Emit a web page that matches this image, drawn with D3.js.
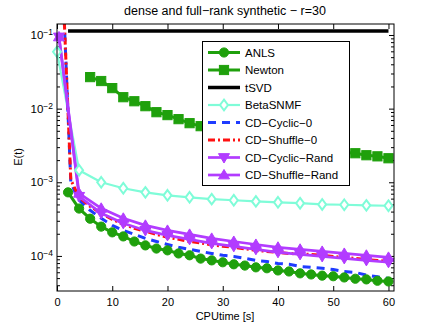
<!DOCTYPE html>
<html>
<head>
<meta charset="utf-8">
<script src="https://cdn.jsdelivr.net/npm/d3@7"></script>
<style>
  body { margin: 0; background: #fff; }
  svg { display: block; font-family: "Liberation Sans", Arial, sans-serif; }
</style>
</head>
<body>
<svg id="chart" width="436" height="328"></svg>
<script>
// values (CPU time in seconds, E(t))
const anlsT = [2,4,6,8,10,12,14,16,18,20,22,24,26,28,30,32,34,36,38,40,42,44,46,48,50,52,54,56,58,60];
const anlsE = [7.3e-4,4.4e-4,3.2e-4,2.5e-4,2.09e-4,1.84e-4,1.57e-4,1.39e-4,1.26e-4,1.19e-4,1.08e-4,1.02e-4,9.2e-5,8.7e-5,8.2e-5,
  7.7e-5,7.4e-5,7.0e-5,6.8e-5,6.35e-5,6.15e-5,5.8e-5,5.6e-5,5.4e-5,5.3e-5,5.1e-5,4.9e-5,4.8e-5,4.6e-5,4.5e-5];

const newtonT = [6,8,10,12,14,16,18,20,22,24,26,28,30,32,34,36,38,40,42,44,46,48,50,52,54,56,58,60];
const newtonE = [0.0268,0.0237,0.019,0.0143,0.0126,0.0108,0.00895,0.00817,0.0072,0.00635,0.00578,0.00526,0.00479,0.00436,
  0.00409,0.00385,0.00361,0.0034,0.00319,0.00309,0.0029,0.00281,0.00273,0.00256,0.00248,0.00233,0.00225,0.00212];

const tsvdT = [2, 60];
const tsvdE = [0.113, 0.113];

const betaT = [0,4,8,12,16,20,24,28,32,36,40,44,48,52,56,60];
const betaE = [0.059,1.46e-3,1.0e-3,8.3e-4,7.3e-4,6.65e-4,6.25e-4,5.9e-4,5.7e-4,5.5e-4,5.35e-4,5.2e-4,5.0e-4,4.95e-4,4.86e-4,4.8e-4];

const cdT = [1,2.5,4,6,8,10,12,14,16,18,20,22,24,26,28,30,32,34,36,38,40,42,44,46,48,50,52,54,56,58,60];
const cyclic0E = [0.6,9.8e-4,5.7e-4,4.16e-4,3.24e-4,2.6e-4,2.22e-4,1.96e-4,1.73e-4,1.57e-4,1.43e-4,1.31e-4,1.23e-4,1.15e-4,
  1.08e-4,1.02e-4,9.85e-5,9.25e-5,8.7e-5,8.4e-5,7.9e-5,7.7e-5,7.2e-5,7.0e-5,6.8e-5,6.55e-5,6.15e-5,5.97e-5,5.5e-5,5.2e-5,4.95e-5];
const shuffle0E = [0.6,1.08e-3,6.25e-4,4.7e-4,3.79e-4,3.14e-4,2.69e-4,2.37e-4,2.16e-4,1.96e-4,1.79e-4,1.68e-4,1.57e-4,1.5e-4,
  1.41e-4,1.35e-4,1.31e-4,1.25e-4,1.19e-4,1.15e-4,1.12e-4,1.08e-4,1.065e-4,1.05e-4,1.02e-4,9.85e-5,9.55e-5,9.25e-5,8.95e-5,8.7e-5,8.4e-5];

const randT = [0.36,4,8,12,16,20,24,28,32,36,40,44,48,52,56,60];
const cyclicRandE = [0.094,6.45e-4,3.79e-4,2.77e-4,2.22e-4,1.9e-4,1.68e-4,1.48e-4,1.35e-4,1.23e-4,1.12e-4,1.05e-4,9.85e-5,9.25e-5,8.7e-5,8.2e-5];
const shuffleRandE = [0.094,7.08e-4,4.43e-4,3.24e-4,2.6e-4,2.22e-4,1.96e-4,1.73e-4,1.57e-4,1.43e-4,1.31e-4,1.23e-4,1.15e-4,1.08e-4,1.02e-4,9.55e-5];

const xTicks = [0, 10, 20, 30, 40, 50, 60];
const yTicks = [1e-4, 1e-3, 1e-2, 1e-1];

const green = "#1fa00c", aqua = "#7ffcd8", blue = "#1f3cff", red = "#ff1010", purple = "#b23cff";

const series = [
  { name: "ANLS", t: anlsT, e: anlsE, color: green, width: 3, marker: "circle", fill: green },
  { name: "Newton", t: newtonT, e: newtonE, color: green, width: 3, marker: "square", fill: green },
  { name: "tSVD", t: tsvdT, e: tsvdE, color: "#000", width: 3.5, marker: null },
  { name: "BetaSNMF", t: betaT, e: betaE, color: aqua, width: 2.2, marker: "diamond", fill: "#fff" },
  { name: "CD\u2212Cyclic\u22120", t: cdT, e: cyclic0E, color: blue, width: 3, dash: "8,6", marker: null },
  { name: "CD\u2212Shuffle\u22120", t: cdT, e: shuffle0E, color: red, width: 3, dash: "7,3,2,3", marker: null },
  { name: "CD\u2212Cyclic\u2212Rand", t: randT, e: cyclicRandE, color: purple, width: 2.7, marker: "triDown", fill: purple },
  { name: "CD\u2212Shuffle\u2212Rand", t: randT, e: shuffleRandE, color: purple, width: 2.7, marker: "triUp", fill: purple }
];

const svg = d3.select("#chart");
const plotLeft = 57, plotRight = 394, plotTop = 24, plotBottom = 291;

const x = d3.scaleLinear().domain([0, 61]).range([plotLeft, plotRight]);
const y = d3.scaleLog().domain([3.34e-5, 0.141]).range([plotBottom, plotTop]);

svg.append("defs").append("clipPath").attr("id", "plotClip")
  .append("rect").attr("x", plotLeft).attr("y", plotTop)
  .attr("width", plotRight - plotLeft).attr("height", plotBottom - plotTop);

// minor ticks for the log axis
const minorTicks = [];
[1e-5, 1e-4, 1e-3, 1e-2, 1e-1].forEach(d => {
  for (let k = 2; k <= 9; k++) {
    const v = d * k;
    if (v > y.domain()[0] && v < y.domain()[1]) minorTicks.push(v);
  }
});

const fontSize = 11;

// bottom / top axes
svg.append("g").attr("transform", `translate(0,${plotBottom})`)
  .call(d3.axisBottom(x).tickValues(xTicks).tickSizeInner(-5).tickSizeOuter(0).tickPadding(7).tickFormat(d3.format("d")));
svg.append("g").attr("transform", `translate(0,${plotTop})`)
  .call(d3.axisTop(x).tickValues(xTicks).tickSizeInner(-5).tickSizeOuter(0).tickFormat(""));

// left / right axes
const yAxis = svg.append("g").attr("transform", `translate(${plotLeft},0)`)
  .call(d3.axisLeft(y).tickValues(yTicks).tickSizeInner(-5).tickSizeOuter(0).tickPadding(4).tickFormat(d => d));
svg.append("g").attr("transform", `translate(${plotLeft},0)`)
  .call(d3.axisLeft(y).tickValues(minorTicks).tickSizeInner(-3).tickSizeOuter(0).tickFormat(""));
svg.append("g").attr("transform", `translate(${plotRight},0)`)
  .call(d3.axisRight(y).tickValues(yTicks).tickSizeInner(-5).tickSizeOuter(0).tickFormat(""));
svg.append("g").attr("transform", `translate(${plotRight},0)`)
  .call(d3.axisRight(y).tickValues(minorTicks).tickSizeInner(-3).tickSizeOuter(0).tickFormat(""));

svg.selectAll(".domain").remove();
svg.selectAll(".tick line").attr("stroke", "#000");
svg.selectAll(".tick text").attr("fill", "#000").attr("font-size", fontSize)
  .attr("font-family", "Liberation Sans, Arial, sans-serif");

// superscript exponents on the y labels
yAxis.selectAll(".tick text").attr("font-size", 11.5).each(function(d) {
  const t = d3.select(this);
  const exp = Math.round(Math.log10(d));
  t.text("");
  t.append("tspan").text("10");
  t.append("tspan").attr("dy", "-0.5em").attr("font-size", 8.5).text("\u2212" + Math.abs(exp));
});

// data lines
const plot = svg.append("g").attr("clip-path", "url(#plotClip)");
const line = d3.line().x(d => x(d[0])).y(d => y(d[1]));

series.forEach(s => {
  const pts = s.t.map((t, i) => [t, s.e[i]]);
  plot.append("path")
    .datum(pts)
    .attr("fill", "none")
    .attr("stroke", s.color)
    .attr("stroke-width", s.width)
    .attr("stroke-dasharray", s.dash || null)
    .attr("stroke-linejoin", "round")
    .attr("d", line);
});

function drawMarker(g, type, cx, cy, color, fill) {
  const r = 4.6;
  if (type === "circle") {
    g.append("circle").attr("cx", cx).attr("cy", cy).attr("r", r)
      .attr("fill", fill).attr("stroke", color).attr("stroke-width", 1);
  } else if (type === "square") {
    g.append("rect").attr("x", cx - r).attr("y", cy - r).attr("width", 2 * r).attr("height", 2 * r)
      .attr("fill", fill).attr("stroke", color).attr("stroke-width", 1);
  } else if (type === "diamond") {
    const h = r * 1.15;
    g.append("path").attr("d", `M${cx},${cy - h}L${cx + h * 0.75},${cy}L${cx},${cy + h}L${cx - h * 0.75},${cy}Z`)
      .attr("fill", fill).attr("stroke", color).attr("stroke-width", 2);
  } else if (type === "triUp") {
    const h = r * 1.2;
    g.append("path").attr("d", `M${cx},${cy - h}L${cx + h},${cy + h * 0.7}L${cx - h},${cy + h * 0.7}Z`)
      .attr("fill", fill).attr("stroke", color).attr("stroke-width", 1);
  } else if (type === "triDown") {
    const h = r * 1.2;
    g.append("path").attr("d", `M${cx},${cy + h}L${cx + h},${cy - h * 0.7}L${cx - h},${cy - h * 0.7}Z`)
      .attr("fill", fill).attr("stroke", color).attr("stroke-width", 1);
  }
}

const markers = svg.append("g");
series.forEach(s => {
  if (!s.marker) return;
  s.t.forEach((t, i) => {
    const v = s.e[i];
    if (v > y.domain()[1] || v < y.domain()[0]) return;
    drawMarker(markers, s.marker, x(t), y(v), s.color, s.fill);
  });
});

// axes box
svg.append("rect")
  .attr("x", plotLeft).attr("y", plotTop)
  .attr("width", plotRight - plotLeft).attr("height", plotBottom - plotTop)
  .attr("fill", "none").attr("stroke", "#000").attr("stroke-width", 1);

// legend
const legend = svg.append("g");
legend.append("rect")
  .attr("x", 202.5).attr("y", 41.5).attr("width", 147).attr("height", 144)
  .attr("fill", "#fff").attr("stroke", "#000").attr("stroke-width", 1);

series.forEach((s, i) => {
  const ly = 52.5 + i * 17.5;
  legend.append("line")
    .attr("x1", 208).attr("x2", 240).attr("y1", ly).attr("y2", ly)
    .attr("stroke", s.color).attr("stroke-width", s.width)
    .attr("stroke-dasharray", s.dash || null);
  if (s.marker) drawMarker(legend, s.marker, 224, ly, s.color, s.fill);
  legend.append("text")
    .attr("x", 245).attr("y", ly + 4)
    .attr("font-size", 11.5).attr("fill", "#000")
    .text(s.name);
});

// titles
svg.append("text")
  .attr("x", 225).attr("y", 15).attr("text-anchor", "middle")
  .attr("font-size", 12.5).attr("fill", "#000")
  .text("dense and full\u2212rank synthetic \u2212 r=30");

svg.append("text")
  .attr("x", 225).attr("y", 320).attr("text-anchor", "middle")
  .attr("font-size", fontSize).attr("fill", "#000")
  .text("CPUtime [s]");

svg.append("text")
  .attr("transform", "translate(22,157) rotate(-90)")
  .attr("text-anchor", "middle")
  .attr("font-size", fontSize).attr("fill", "#000")
  .text("E(t)");
</script>
</body>
</html>
